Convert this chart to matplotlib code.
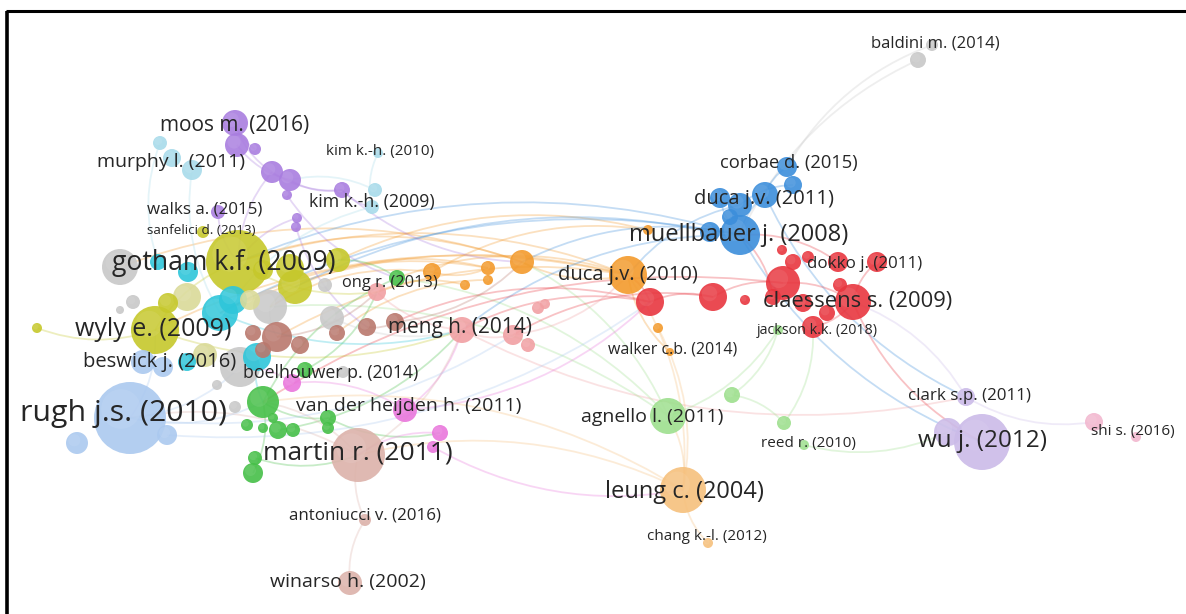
import matplotlib
matplotlib.use("Agg")
import matplotlib.pyplot as plt
from matplotlib.patches import Circle, PathPatch
from matplotlib.path import Path

plt.rcParams['font.family'] = ['Open Sans', 'DejaVu Sans']

# cluster colours
colors = {
    'red': '#e8363f', 'blue': '#3c8edb', 'orange': '#f39a2c', 'ltorange': '#f6c07c',
    'green': '#46bf48', 'ltgreen': '#9edf8e', 'yellow': '#c6c82b', 'ltyellow': '#dada98',
    'cyan': '#2ec6da', 'ltcyan': '#a8dbea', 'purple': '#a97ddf', 'ltpurple': '#cbbbe8',
    'gray': '#c8c8c8', 'brown': '#b9786d', 'salmon': '#f1a0a3', 'pink': '#e977dc',
    'ltblue': '#abc9ef', 'rose': '#dcb2aa', 'ltpink': '#f2b7cf',
}

# node layout per cluster (map units, weight = bubble radius)
red_x = [853, 783, 713, 650, 813, 838, 877, 793, 773, 803, 827, 840, 808, 782, 745]
red_y = [302, 283, 297, 302, 327, 262, 262, 262, 297, 303, 313, 285, 257, 250, 300]
red_r = [18, 17, 14, 14, 11, 10, 10, 8, 8, 9, 8, 7, 6, 5, 5]

blue_x = [740, 765, 740, 720, 710, 787, 793, 730]
blue_y = [235, 195, 205, 198, 232, 167, 185, 217]
blue_r = [20, 13, 12, 10, 10, 10, 9, 8]

orange_x = [628, 522, 432, 488, 488, 465, 648, 658, 670]
orange_y = [275, 262, 272, 268, 280, 285, 230, 328, 352]
orange_r = [19, 12, 9, 7, 5, 5, 5, 5, 4]

ltorange_x = [683, 708]
ltorange_y = [490, 543]
ltorange_r = [23, 5]

green_x = [263, 397, 305, 247, 263, 278, 293, 328, 328, 253, 255, 273]
green_y = [402, 278, 370, 425, 428, 430, 430, 418, 428, 473, 458, 418]
green_r = [16, 8, 8, 6, 5, 9, 7, 8, 6, 10, 7, 5]

ltgreen_x = [668, 732, 784, 804, 778]
ltgreen_y = [416, 395, 423, 445, 330]
ltgreen_r = [18, 8, 7, 5, 5]

yellow_x = [238, 155, 295, 290, 338, 263, 168, 37, 203]
yellow_y = [262, 330, 287, 268, 260, 270, 303, 328, 232]
yellow_r = [32, 24, 17, 14, 12, 10, 10, 5, 6]

ltyellow_x = [187, 250, 205]
ltyellow_y = [297, 300, 355]
ltyellow_r = [14, 10, 12]

cyan_x = [220, 233, 257, 158, 188, 187]
cyan_y = [313, 300, 357, 262, 272, 362]
cyan_r = [18, 14, 14, 8, 10, 9]

purple_x = [235, 237, 255, 272, 290, 287, 342, 297, 296, 218]
purple_y = [123, 145, 149, 172, 180, 195, 190, 218, 227, 212]
purple_r = [13, 12, 6, 11, 11, 5, 8, 5, 5, 7]

ltcyan_x = [160, 172, 192, 378, 375, 372]
ltcyan_y = [143, 158, 170, 153, 190, 207]
ltcyan_r = [7, 9, 10, 5, 7, 7]

gray_x = [120, 270, 240, 332, 325, 133, 120, 217, 235, 343, 918, 932]
gray_y = [267, 307, 367, 318, 285, 302, 310, 385, 407, 372, 60, 45]
gray_r = [18, 17, 20, 12, 7, 7, 4, 5, 6, 6, 8, 6]

brown_x = [277, 253, 300, 337, 367, 395, 263]
brown_y = [337, 333, 345, 333, 327, 322, 350]
brown_r = [15, 8, 9, 8, 9, 9, 8]

salmon_x = [462, 377, 513, 528, 538, 545]
salmon_y = [330, 292, 335, 345, 308, 304]
salmon_r = [13, 9, 10, 7, 6, 5]

pink_x = [292, 405, 440, 433]
pink_y = [383, 410, 433, 447]
pink_r = [9, 12, 8, 6]

ltblue_x = [130, 77, 167, 143, 163]
ltblue_y = [418, 443, 435, 362, 367]
ltblue_r = [36, 11, 10, 12, 10]

rose_x = [358, 365, 350]
rose_y = [455, 520, 583]
rose_r = [27, 6, 12]

ltpurple_x = [982, 948, 966]
ltpurple_y = [442, 432, 397]
ltpurple_r = [28, 14, 9]

ltpink_x = [1094, 1136]
ltpink_y = [422, 437]
ltpink_r = [9, 5]

clusters = {
    'red': (red_x, red_y, red_r), 'blue': (blue_x, blue_y, blue_r),
    'orange': (orange_x, orange_y, orange_r), 'ltorange': (ltorange_x, ltorange_y, ltorange_r),
    'green': (green_x, green_y, green_r), 'ltgreen': (ltgreen_x, ltgreen_y, ltgreen_r),
    'yellow': (yellow_x, yellow_y, yellow_r), 'ltyellow': (ltyellow_x, ltyellow_y, ltyellow_r),
    'cyan': (cyan_x, cyan_y, cyan_r), 'ltcyan': (ltcyan_x, ltcyan_y, ltcyan_r),
    'purple': (purple_x, purple_y, purple_r), 'gray': (gray_x, gray_y, gray_r),
    'brown': (brown_x, brown_y, brown_r), 'salmon': (salmon_x, salmon_y, salmon_r),
    'pink': (pink_x, pink_y, pink_r), 'ltblue': (ltblue_x, ltblue_y, ltblue_r),
    'rose': (rose_x, rose_y, rose_r), 'ltpurple': (ltpurple_x, ltpurple_y, ltpurple_r),
    'ltpink': (ltpink_x, ltpink_y, ltpink_r),
}

# citation links, "cluster index - cluster index"
links = [
    'gray10-blue0', 'gray11-blue5', 'blue0-ltpurple0', 'blue1-ltpurple2', 'ltpurple2-ltpink0',
    'ltpurple2-red0', 'ltgreen3-ltpurple1', 'salmon0-ltpurple2', 'red0-ltpurple0',
    'ltorange0-orange0', 'ltorange0-ltgreen0', 'ltorange0-ltorange1', 'ltorange0-rose0',
    'ltorange0-orange7', 'ltgreen0-orange1', 'ltgreen0-ltgreen4', 'ltgreen1-ltgreen4',
    'ltgreen2-ltgreen1', 'ltgreen0-green1', 'ltgreen2-red4',
    'orange0-yellow0', 'orange0-yellow1', 'orange1-yellow0', 'orange2-gray1', 'orange0-brown0',
    'orange3-cyan0', 'orange1-orange0', 'orange2-orange3', 'orange6-orange2', 'orange0-orange8',
    'orange3-yellow2', 'orange4-brown3', 'orange5-salmon1', 'orange6-yellow4',
    'orange0-cyan0', 'orange1-gray0', 'orange0-green1',
    'blue0-cyan0', 'blue0-salmon0', 'blue2-orange0', 'blue4-yellow2', 'blue0-orange1',
    'blue0-yellow0',
    'red3-salmon0', 'red2-salmon2', 'red2-red3', 'red1-red2', 'red3-orange0', 'red8-blue0',
    'red0-red1', 'red5-blue0', 'red6-red0', 'red4-red0', 'red1-green0', 'red3-brown5',
    'blue1-blue0', 'blue5-blue1', 'blue3-blue0', 'blue6-blue2',
    'purple0-purple3', 'purple3-yellow0', 'purple6-orange1', 'purple4-purple6', 'purple1-purple4',
    'purple7-yellow0', 'purple6-ltcyan5', 'purple3-purple6', 'purple0-purple2', 'purple9-yellow0',
    'purple8-brown4', 'purple5-green1',
    'green1-green0', 'green0-green7', 'green2-salmon1', 'green9-green0', 'green7-pink2',
    'green1-yellow4', 'green5-salmon0', 'green10-rose0',
    'pink1-pink0', 'pink2-rose0', 'pink1-salmon0', 'pink0-gray2', 'pink1-red3', 'pink3-ltorange0',
    'rose0-rose1', 'rose1-rose2', 'rose0-ltblue0', 'rose0-green0', 'rose0-salmon0',
    'ltorange0-green0', 'ltgreen0-gray1', 'salmon2-orange0',
    'ltcyan2-cyan0', 'ltcyan5-cyan1', 'ltcyan3-ltcyan5', 'ltcyan0-cyan3', 'ltcyan4-purple4',
    'ltblue0-yellow1', 'ltblue0-gray2', 'ltblue2-red3', 'ltblue0-salmon2', 'ltblue0-green0',
    'yellow7-yellow1', 'yellow0-yellow1', 'yellow2-gray1', 'yellow1-salmon0', 'yellow0-salmon1',
    'gray1-brown0', 'gray3-salmon0', 'brown4-brown5', 'brown0-salmon1', 'brown5-orange1',
    'salmon1-salmon0', 'salmon0-salmon2', 'cyan0-salmon0', 'cyan2-green0',
]

labels = ['rugh j.s. (2010)', 'gotham k.f. (2009)', 'martin r. (2011)', 'wyly e. (2009)',
          'wu j. (2012)', 'leung c. (2004)', 'muellbauer j. (2008)', 'claessens s. (2009)',
          'duca j.v. (2011)', 'duca j.v. (2010)', 'agnello l. (2011)', 'moos m. (2016)',
          'meng h. (2014)', 'beswick j. (2016)', 'murphy l. (2011)', 'van der heijden h. (2011)',
          'kim k.-h. (2009)', 'corbae d. (2015)', 'dokko j. (2011)', 'ong r. (2013)',
          'boelhouwer p. (2014)', 'walks a. (2015)', 'clark s.p. (2011)', 'baldini m. (2014)',
          'winarso h. (2002)', 'antoniucci v. (2016)', 'walker c.b. (2014)', 'kim k.-h. (2010)',
          'reed r. (2010)', 'jackson k.k. (2018)', 'chang k.-l. (2012)', 'sanfelici d. (2013)',
          'shi s. (2016)']
label_x = [124, 224, 358, 153, 983, 684, 739, 858, 764, 628, 652, 235, 460, 160, 171, 409,
           372, 789, 865, 390, 331, 205, 969, 935, 348, 365, 673, 380, 808, 817, 707, 201, 1133]
label_y = [414, 263, 453, 329, 441, 492, 235, 302, 199, 275, 417, 125, 327, 362, 162, 406,
           202, 163, 264, 283, 373, 209, 396, 44, 582, 515, 349, 151, 443, 330, 537, 231, 431]
label_size = [21.8, 19.2, 19, 18, 17.5, 17, 17, 15.8, 14.5, 14.5, 14, 15, 15, 14.5, 14, 14,
              12.8, 13.2, 12.2, 11.8, 12.8, 12.2, 12.2, 12, 14, 12.2, 11.5, 11, 11, 10.3, 11,
              9.7, 11]


def node(key):
    name = key.rstrip('0123456789')
    i = int(key[len(name):])
    xs, ys, rs = clusters[name]
    return xs[i], ys[i], rs[i], name


fig = plt.figure(figsize=(11.86, 6.14), dpi=100)
ax = fig.add_axes([0, 0, 1, 1])
ax.set_xlim(0, 1186)
ax.set_ylim(614, 0)
ax.set_aspect('equal')
ax.axis('off')

# curved links, coloured after their source node
for link in links:
    a, b = link.split('-')
    x0, y0, _, ca = node(a)
    x1, y1, _, _ = node(b)
    dx, dy = x1 - x0, y1 - y0
    mx, my = (x0 + x1) / 2 - 0.18 * dy, (y0 + y1) / 2 + 0.18 * dx
    path = Path([(x0, y0), (mx, my), (x1, y1)], [Path.MOVETO, Path.CURVE3, Path.CURVE3])
    ax.add_patch(PathPatch(path, fc='none', ec=colors[ca], lw=1.3, alpha=0.3, zorder=1))

# bubbles, big ones first
all_nodes = []
for name, (xs, ys, rs) in clusters.items():
    for x, y, r in zip(xs, ys, rs):
        all_nodes.append((r, x, y, name))
all_nodes.sort(reverse=True)
for r, x, y, name in all_nodes:
    ax.add_patch(Circle((x, y), r, fc=colors[name], ec='none', alpha=0.9, zorder=2))
    ax.add_patch(Circle((x - 0.25 * r, y - 0.25 * r), 0.55 * r, fc='white', ec='none',
                        alpha=0.08, zorder=2))

for t, x, y, s in zip(labels, label_x, label_y, label_size):
    ax.text(x, y, t, fontsize=s, color='#262626', ha='center', va='center', zorder=3)

# frame lines along top and left
ax.plot([6, 1186], [11, 11], color='black', lw=2.2, zorder=4, solid_capstyle='butt')
ax.plot([7, 7], [11, 614], color='black', lw=2.6, zorder=4, solid_capstyle='butt')

fig.savefig('out.png', dpi=100, facecolor='white')
